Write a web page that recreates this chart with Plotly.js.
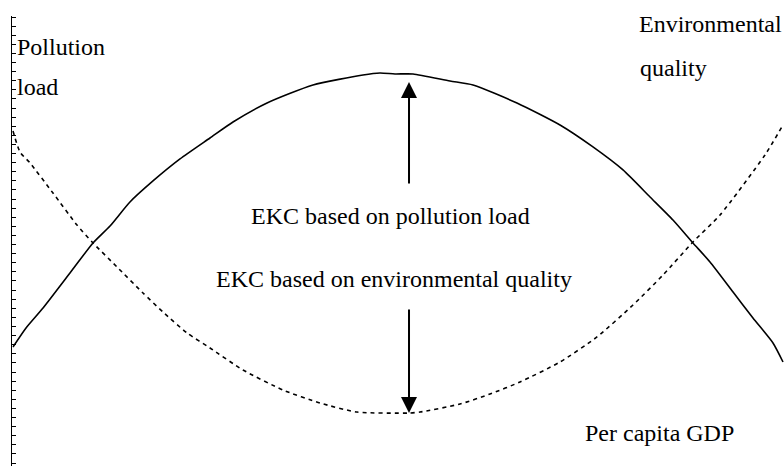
<!DOCTYPE html>
<html>
<head>
<meta charset="utf-8">
<script src="https://cdn.plot.ly/plotly-3.0.1.min.js"></script>
<style>html,body{margin:0;padding:0;background:#fff;}#chart{width:784px;height:466px;}</style>
</head>
<body>
<div id="chart"></div>
<script>
// Per capita GDP index (0..100) and curve levels (units = axis tick steps)
const gdpPollution = [0, 1.69, 3.90, 7.40, 10.39, 12.60, 15.19, 18.18, 21.69, 25.58, 28.57, 32.99, 38.96, 45.45, 47.66, 49.61, 51.95, 56.75, 59.74, 65.45, 71.04, 75.32, 79.22, 82.73, 85.71, 88.31, 90.52, 93.51, 96.10, 98.70, 100];
const pollutionLoad = [12.75, 14.84, 17.03, 20.88, 24.18, 26.04, 28.68, 30.99, 33.41, 35.71, 37.47, 39.56, 41.54, 42.64, 42.86, 42.75, 42.75, 41.98, 41.54, 39.56, 37.14, 34.73, 32.20, 29.23, 26.70, 24.18, 22.09, 18.79, 15.93, 13.19, 11.10];

const gdpQuality = [0, 0.91, 2.21, 5.19, 8.31, 10.39, 13.51, 16.88, 19.48, 22.60, 25.58, 29.87, 35.06, 39.87, 44.68, 51.43, 52.86, 58.05, 61.95, 65.84, 71.04, 75.84, 80.52, 84.42, 88.31, 91.82, 97.66, 100];
const envQuality = [36.48, 34.18, 32.97, 29.67, 26.15, 24.18, 21.54, 18.68, 16.59, 14.29, 12.64, 10.22, 8.02, 6.59, 5.60, 5.49, 5.60, 6.48, 7.58, 8.90, 11.10, 13.85, 17.36, 20.66, 24.29, 27.25, 33.85, 37.14];

// Arrows: [gdp, tail level, tip level]
const arrowUp = [51.43, 30.55, 41.87];
const arrowDown = [51.43, 17.03, 5.49];

const labels = {
  pollution1: 'Pollution', pollution2: 'load',
  quality1: 'Environmental', quality2: 'quality',
  ekcLoad: 'EKC based on pollution load',
  ekcQuality: 'EKC based on environmental quality',
  xTitle: 'Per capita GDP'
};

const font = {family: "'Liberation Serif', 'Times New Roman', Times, 'DejaVu Serif', serif", size: 24, color: '#000'};

const traces = [
  {x: gdpPollution, y: pollutionLoad, type: 'scatter', mode: 'lines',
   line: {color: '#000', width: 1.6, shape: 'spline', smoothing: 0.6}, hoverinfo: 'skip'},
  {x: gdpQuality, y: envQuality, type: 'scatter', mode: 'lines',
   line: {color: '#000', width: 1.6, dash: '4px,4px', shape: 'spline', smoothing: 0.6}, hoverinfo: 'skip'}
];

function txt(t, x, y, anchor) {
  return {text: t, xref: 'paper', yref: 'paper', x: x, y: y, xanchor: anchor, yanchor: 'middle',
          showarrow: false, font: font, borderpad: 0};
}
function arrow(a) {
  return {text: '', x: a[0], y: a[2], ax: a[0], ay: a[1], xref: 'x', yref: 'y', axref: 'x', ayref: 'y',
          showarrow: true, arrowhead: 2, arrowsize: 1.6, arrowwidth: 2, arrowcolor: '#000'};
}

const layout = {
  width: 784, height: 466,
  margin: {l: 0, r: 0, t: 0, b: 0, pad: 0},
  paper_bgcolor: '#fff', plot_bgcolor: '#fff',
  showlegend: false,
  font: font,
  xaxis: {domain: [11.5/784, 1], range: [-0.195, 100.13], visible: false, fixedrange: true},
  yaxis: {domain: [0, 1 - 16/466], range: [-0.33, 49.12], showline: true, linecolor: '#000', linewidth: 1,
          ticks: 'inside', ticklen: 4, tickwidth: 1, tickcolor: '#000', tick0: 0, dtick: 1,
          showticklabels: false, showgrid: false, zeroline: false, fixedrange: true},
  annotations: [
    txt(labels.pollution1, 16/784, 1 - 47/466, 'left'),
    txt(labels.pollution2, 16/784, 1 - 87/466, 'left'),
    txt(labels.quality1, 783/784, 1 - 24/466, 'right'),
    txt(labels.quality2, 639/784, 1 - 68/466, 'left'),
    txt(labels.ekcLoad, 390.5/784, 1 - 216/466, 'center'),
    txt(labels.ekcQuality, 393.5/784, 1 - 279/466, 'center'),
    txt(labels.xTitle, 659/784, 1 - 433/466, 'center'),
    arrow(arrowUp),
    arrow(arrowDown)
  ]
};

Plotly.newPlot('chart', traces, layout, {staticPlot: true, displayModeBar: false});
</script>
</body>
</html>
